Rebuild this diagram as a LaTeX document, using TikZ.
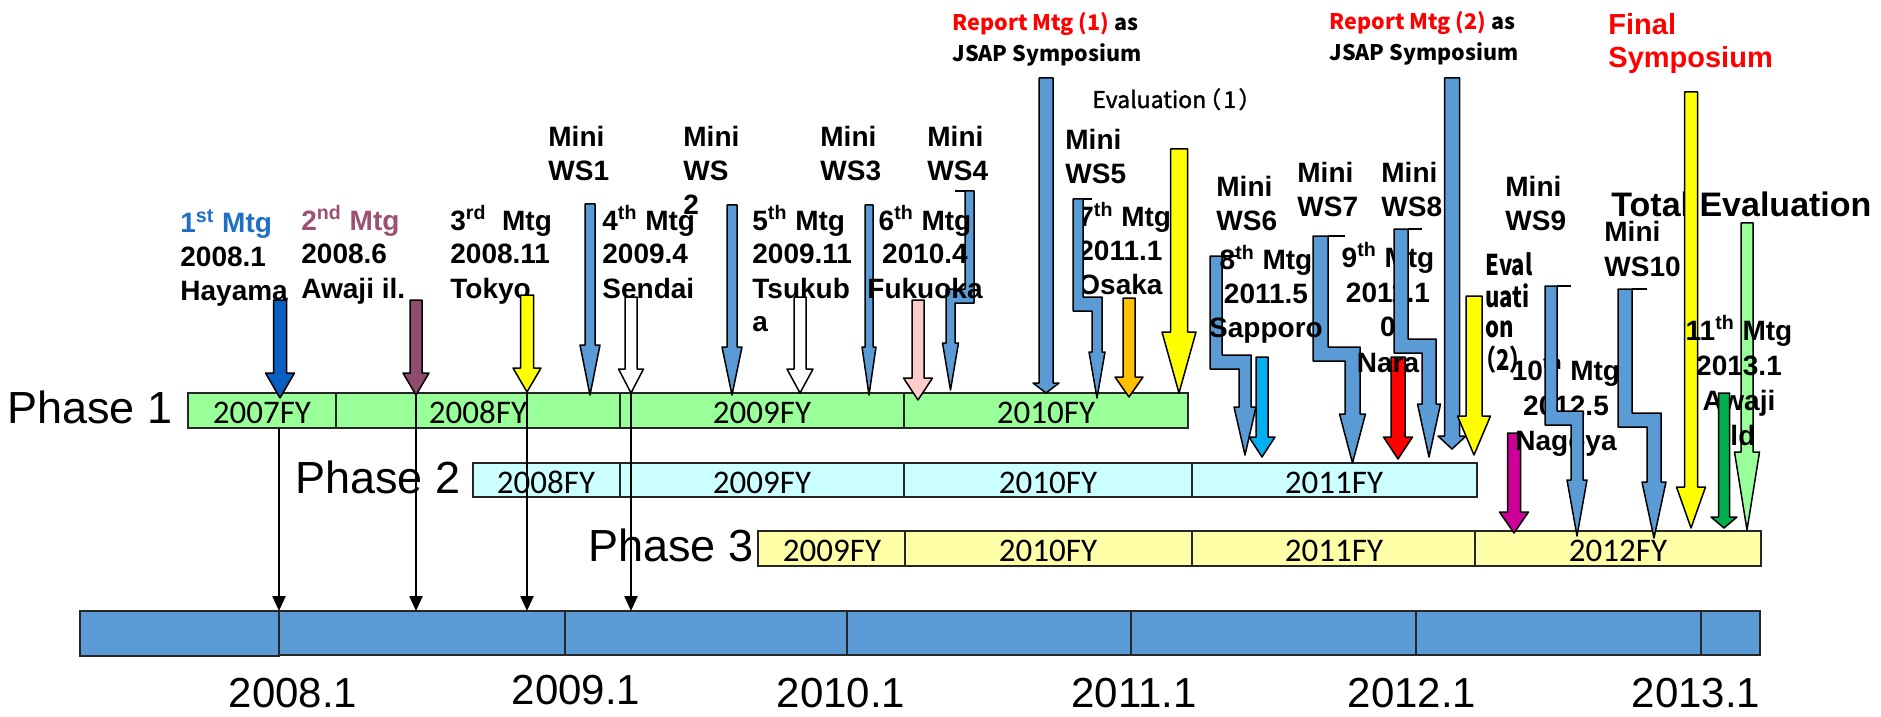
\documentclass[tikz,border=0pt]{standalone}
\usepackage{graphicx}
\usepackage{fontspec}
\setmainfont{Liberation Sans}
\newfontfamily\cjkf{Noto Sans CJK JP}
\newfontfamily\cjkm[FakeBold=1.5]{Noto Sans CJK JP}
\newfontfamily\carl{Carlito}
\usetikzlibrary{arrows.meta}

\definecolor{pone}{HTML}{99FF99}
\definecolor{ptwo}{HTML}{CCFFFF}
\definecolor{pthree}{HTML}{FFFFA8}
\definecolor{wsblue}{HTML}{5B9BD5}
\definecolor{dblue}{HTML}{0A5FC0}
\definecolor{tblue}{HTML}{1F6FC5}
\definecolor{purp}{HTML}{8F4C6D}
\definecolor{tpurp}{HTML}{9B5172}
\definecolor{pinkc}{HTML}{FFCCCC}
\definecolor{orng}{HTML}{FFC000}
\definecolor{lblue}{HTML}{00B0F0}
\definecolor{magc}{HTML}{CC0099}
\definecolor{dgreen}{HTML}{00B050}
\definecolor{lgreen}{HTML}{99FF99}
\definecolor{ylw}{HTML}{FFFF00}

\newcommand{\lns}[2][l]{\begin{tabular}[t]{@{}#1@{}}#2\end{tabular}}

% straight block arrow: colour, cx, shaft width, top, head start, head width, tip
\newcommand{\darr}[7]{%
  \draw[blockarrow, fill=#1] ({#2-#3/2},#4) -- ({#2+#3/2},#4) -- ({#2+#3/2},#5) -- ({#2+#6/2},#5) -- (#2,#7) -- ({#2-#6/2},#5) -- ({#2-#3/2},#5) -- cycle;}
% zig-zag arrow jogging right: colour, upper x, lower x, width, top, jog y, head start, head width, tip
\newcommand{\zarR}[9]{%
  \draw[blockarrow, fill=#1] (#2,#5) -- ({#2+#4},#5) -- ({#2+#4},#6) -- ({#3+#4},#6) -- ({#3+#4},#7) -- ({#3+#4/2+#8/2},#7) -- ({#3+#4/2},#9) -- ({#3+#4/2-#8/2},#7) -- (#3,#7) -- (#3,{#6+14}) -- (#2,{#6+14}) -- cycle;
  \draw[blockarrow] ({#2+#4},#5) -- (#3,#5);}
% zig-zag arrow jogging left
\newcommand{\zarL}[9]{%
  \draw[blockarrow, fill=#1] (#2,#5) -- ({#2+#4},#5) -- ({#2+#4},{#6+14}) -- ({#3+#4},{#6+14}) -- ({#3+#4},#7) -- ({#3+#4/2+#8/2},#7) -- ({#3+#4/2},#9) -- ({#3+#4/2-#8/2},#7) -- (#3,#7) -- (#3,#6) -- (#2,#6) -- cycle;
  \draw[blockarrow] ({#3+#4},#5) -- (#2,#5);}

\tikzset{
  barbox/.style={draw=black!85, line width=1pt},
  blockarrow/.style={draw=black, line width=0.75pt, line join=round},
  fy/.style={font=\carl\fontsize{16.5}{20}\selectfont, anchor=base, inner sep=0},
  phase/.style={font=\fontsize{22.5}{27}\selectfont, anchor=base west, inner sep=0},
  yr/.style={font=\fontsize{21}{25}\selectfont, anchor=base, inner sep=0},
  lbl/.style={font=\bfseries\fontsize{14}{17}\selectfont, inner sep=0},
  lblw/.style={font=\bfseries\fontsize{14}{17.5}\selectfont, inner sep=0},
  cjklbl/.style={font=\cjkf\bfseries\fontsize{10.75}{15.5}\selectfont, inner sep=0, anchor=base west},
  tline/.style={line width=1.2pt, -{Triangle[length=7.5pt,width=6.5pt]}},
}

\begin{document}
\begin{tikzpicture}[x=0.5pt,y=-0.5pt]
\useasboundingbox (0,0) rectangle (1881,717);
\fill[white] (0,0) rectangle (1881,717);

% ---------- bars ----------
\draw[barbox, fill=pone] (188,393) rectangle (336,428);
\draw[barbox, fill=pone] (336,393) rectangle (620,428);
\draw[barbox, fill=pone] (620,393) rectangle (904,428);
\draw[barbox, fill=pone] (904,393) rectangle (1188,428);

\draw[barbox, fill=ptwo] (473,463) rectangle (620,497);
\draw[barbox, fill=ptwo] (620,463) rectangle (904,497);
\draw[barbox, fill=ptwo] (904,463) rectangle (1192,497);
\draw[barbox, fill=ptwo] (1192,463) rectangle (1477,497);

\draw[barbox, fill=pthree] (758,531) rectangle (905,566);
\draw[barbox, fill=pthree] (905,531) rectangle (1192,566);
\draw[barbox, fill=pthree] (1192,531) rectangle (1475,566);
\draw[barbox, fill=pthree] (1475,531) rectangle (1761,566);

\draw[barbox, fill=wsblue] (80,611) rectangle (279,656);
\draw[barbox, fill=wsblue] (279,611) rectangle (565,655);
\draw[barbox, fill=wsblue] (565,611) rectangle (847,655);
\draw[barbox, fill=wsblue] (847,611) rectangle (1131,655);
\draw[barbox, fill=wsblue] (1131,611) rectangle (1416,655);
\draw[barbox, fill=wsblue] (1416,611) rectangle (1701,655);
\draw[barbox, fill=wsblue] (1701,611) rectangle (1760,655);

% ---------- bar texts ----------
\node[phase] (ph1) at (7,423) {Phase 1};
\node[phase] (ph2) at (295,493) {Phase 2};
\node[phase] (ph3) at (588,561) {Phase 3};

\node[fy] (fa1) at (262,423) {2007FY};
\node[fy] (fa2) at (478,423) {2008FY};
\node[fy] (fa3) at (762,423) {2009FY};
\node[fy] (fa4) at (1046,423) {2010FY};
\node[fy] (fb1) at (546,493) {2008FY};
\node[fy] (fb2) at (762,493) {2009FY};
\node[fy] (fb3) at (1048,493) {2010FY};
\node[fy] (fb4) at (1334,493) {2011FY};
\node[fy] (fc1) at (832,561) {2009FY};
\node[fy] (fc2) at (1048,561) {2010FY};
\node[fy] (fc3) at (1334,561) {2011FY};
\node[fy] (fc4) at (1618,561) {2012FY};

\node[yr] (y08) at (293,707) {2008.1};
\node[yr] (y09) at (576,704) {2009.1};
\node[yr] (y10) at (841,707) {2010.1};
\node[yr] (y11) at (1134,707) {2011.1};
\node[yr] (y12) at (1412,707) {2012.1};
\node[yr] (y13) at (1696,707) {2013.1};

% ---------- connectors to the time axis ----------
\coordinate (a1) at (279,428); \coordinate (b1) at (279,611);
\coordinate (a2) at (416,393); \coordinate (b2) at (416,611);
\coordinate (a3) at (527,393); \coordinate (b3) at (527,611);
\coordinate (a4) at (631,393); \coordinate (b4) at (631,611);
\draw[tline] (a1) -- (b1);
\draw[tline] (a2) -- (b2);
\draw[tline] (a3) -- (b3);
\draw[tline] (a4) -- (b4);

% ---------- arrows under the texts ----------
\zarL{wsblue}{965}{946}{9}{191}{289}{343}{16}{390}
\zarR{wsblue}{1210}{1239}{12}{256}{355}{407}{22}{455}
\zarR{wsblue}{1313}{1345}{15}{236}{347}{414}{26}{463}
\darr{red}{1398}{14}{357}{437}{29}{459}
\darr{lgreen}{1747}{12}{223}{452}{25}{530}
\darr{lblue}{1262}{12}{357}{437}{26}{457}
\darr{pinkc}{918}{12}{300}{378}{29}{400}
\darr{orng}{1129}{12}{298}{377}{28}{397}
\darr{wsblue}{590}{10}{204}{345}{20}{395}
\darr{wsblue}{732}{10}{205}{347}{20}{395}
\darr{wsblue}{869}{8}{205}{347}{14}{395}
\darr{wsblue}{1046}{14}{78}{383}{26}{393}
\darr{wsblue}{1452}{15}{78}{436}{28}{449}
\darr{ylw}{1179}{17}{149}{332}{34}{393}
\darr{ylw}{1474}{16}{296}{416}{33}{455}
\darr{magc}{1514}{13}{433}{512}{29}{533}
\zarR{wsblue}{1618}{1647}{14}{289}{413}{482}{24}{538}

% ---------- texts ----------
\node[lbl, anchor=base west] (t1) at (180,233) {\lns{\textcolor{tblue}{1\textsuperscript{st} Mtg}\\2008.1\\Hayama}};
\node[lbl, anchor=base west] (t2) at (301,230) {\lns{\textcolor{tpurp}{2\textsuperscript{nd} Mtg}\\2008.6\\Awaji il.}};
\node[lbl, anchor=base west] (t3) at (450,230) {\lns{3\textsuperscript{rd}\ \ Mtg\\2008.11\\Tokyo}};
\node[lbl, anchor=base west] (t4) at (602,230) {\lns{4\textsuperscript{th} Mtg\\2009.4\\Sendai}};
\node[lbl, anchor=base west] (t5) at (752,230) {\lns{5\textsuperscript{th} Mtg\\2009.11\\Tsukub\\a}};
\node[lbl, anchor=base] (t6) at (925,230) {\lns[c]{6\textsuperscript{th} Mtg\\2010.4\\Fukuoka}};
\node[lbl, anchor=base west] (t7) at (1078,227) {\lns{7\textsuperscript{th} Mtg\\2011.1\\Osaka}};
\node[lbl, anchor=base] (t8) at (1266,270) {\lns[c]{8\textsuperscript{th} Mtg\\2011.5\\Sapporo}};
\node[lblw, anchor=base] (t9) at (1388,267) {\lns[c]{9\textsuperscript{th} Mtg\\2011.1\\0\\Nara}};
\node[lblw, anchor=base] (t10) at (1566,380) {\lns[c]{10\textsuperscript{th} Mtg\\2012.5\\Nagoya}};

\node[lbl, anchor=base west] (w1) at (548,147) {\lns{Mini\\WS1}};
\node[lbl, anchor=base west] (w2) at (683,147) {\lns{Mini\\WS\\2}};
\node[lbl, anchor=base west] (w3) at (820,147) {\lns{Mini\\WS3}};
\node[lbl, anchor=base west] (w4) at (927,147) {\lns{Mini\\WS4}};
\node[lbl, anchor=base west] (w5) at (1065,150) {\lns{Mini\\WS5}};
\node[lbl, anchor=base west] (w6) at (1216,197) {\lns{Mini\\WS6}};
\node[lbl, anchor=base west] (w7) at (1297,183) {\lns{Mini\\WS7}};
\node[lbl, anchor=base west] (w8) at (1381,183) {\lns{Mini\\WS8}};
\node[lbl, anchor=base west] (w9) at (1505,197) {\lns{Mini\\WS9}};
\node[lblw, anchor=base west] (w10) at (1604,242) {\lns{Mini\\WS10}};

\node[cjklbl] (r1) at (952,31) {\lns{\textcolor{red}{Report Mtg (1)} as\\JSAP Symposium}};
\node[cjklbl] (r2) at (1329,30) {\lns{\textcolor{red}{Report Mtg (2)} as\\JSAP Symposium}};
\node[inner sep=0, anchor=base west, font=\bfseries\fontsize{14.5}{16.5}\selectfont, text=red] (fs) at (1608,35) {\lns{Final\\Symposium}};
\node[inner sep=0, anchor=base west, font=\cjkm\fontsize{11.5}{14}\selectfont] (e1) at (1092,108) {Evaluation\kern-0.35em（\kern0.1em 1\kern0.1em）};
\node[inner sep=0, anchor=base west, font=\cjkf\bfseries\fontsize{11}{11.4}\selectfont] (e2) at (1485,275) {\scalebox{1}[1.3]{\lns{Eval\\uati\\on\\\kern-0.5em（2）}}};
\node[inner sep=0, anchor=base west, font=\bfseries\fontsize{17}{20}\selectfont] (te) at (1611,217) {Total Evaluation};

% ---------- arrows over the texts ----------
\darr{dblue}{280}{13}{300}{373}{29}{398}
\darr{purp}{416}{12}{300}{373}{26}{395}
\darr{ylw}{527}{13}{295}{368}{28}{392}
\darr{white}{631}{12}{297}{369}{25}{393}
\darr{white}{800}{12}{297}{369}{26}{393}
\zarR{wsblue}{1073}{1092}{10}{199}{297}{352}{16}{398}
\zarR{wsblue}{1394}{1422}{14}{229}{339}{404}{23}{457}
\zarR{wsblue}{1545}{1571}{12}{286}{411}{480}{20}{536}
\darr{ylw}{1691}{13}{92}{487}{29}{528}

\node[lblw, anchor=base] (t11) at (1739,340) {\lns[c]{11\textsuperscript{th} Mtg\\2013.1\\Awaji\\ild}};
\darr{dgreen}{1724}{11}{393}{517}{26}{528}
\end{tikzpicture}
\end{document}
